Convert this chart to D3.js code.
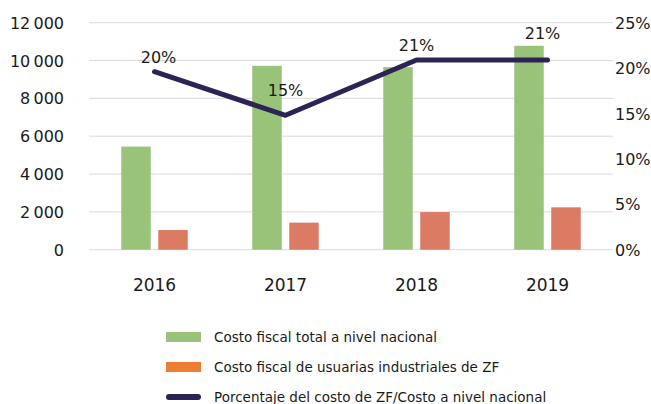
<!DOCTYPE html>
<html>
<head>
<meta charset="utf-8">
<script src="https://cdn.jsdelivr.net/npm/d3@7"></script>
<style>
  body { margin: 0; background: #fff; }
  text { font-family: "DejaVu Sans", sans-serif; fill: #1a1a1a; }
</style>
</head>
<body>
<div id="chart"></div>
<script>
const years = ["2016", "2017", "2018", "2019"];
const totalCost = [5450, 9720, 9650, 10780];
const zfCost = [1040, 1430, 1990, 2240];
const share = [0.196, 0.148, 0.209, 0.209];
const shareLabels = ["20%", "15%", "21%", "21%"];
const leftTicks = [0, 2000, 4000, 6000, 8000, 10000, 12000];
const rightTicks = [0, 0.05, 0.10, 0.15, 0.20, 0.25];
const legendItems = [
    { name: "Costo fiscal total a nivel nacional", type: "bar", color: "#98c379" },
    { name: "Costo fiscal de usuarias industriales de ZF", type: "bar", color: "#ed7d31" },
    { name: "Porcentaje del costo de ZF/Costo a nivel nacional", type: "line", color: "#2c2455" }
];

const svgWidth = 651, svgHeight = 404;
const plotLeft = 89, plotRight = 613, plotTop = 22.7, plotBottom = 249.7;
const green = "#98c379", orange = "#dc7b63", lineColor = "#2c2455";

var svg = d3.select("#chart").append("svg")
    .attr("width", svgWidth).attr("height", svgHeight);

var xScale = d3.scaleBand().domain(years).range([plotLeft, plotRight]);
var yLeft = d3.scaleLinear().domain([0, 12000]).range([plotBottom, plotTop]);
var yRight = d3.scaleLinear().domain([0, 0.25]).range([plotBottom, plotTop]);

// gridlines
svg.append("g").selectAll("line").data(leftTicks).enter()
    .append("line")
    .attr("x1", plotLeft).attr("x2", plotRight)
    .attr("y1", d => yLeft(d)).attr("y2", d => yLeft(d))
    .attr("stroke", "#d9d9d9").attr("stroke-width", 1);

// left axis
var fmt = d3.format(",");
var leftAxis = d3.axisLeft(yLeft).tickValues(leftTicks)
    .tickSize(0).tickPadding(0)
    .tickFormat(d => fmt(d).replace(",", "\u2009"));
var la = svg.append("g").attr("transform", "translate(64,0)").call(leftAxis);
la.select(".domain").remove();
la.selectAll("text").style("font-size", "16px").attr("dy", "0.35em")
    .style("font-family", "DejaVu Sans").attr("fill", "#1a1a1a");

// right axis
var rightAxis = d3.axisRight(yRight).tickValues(rightTicks)
    .tickSize(0).tickPadding(0).tickFormat(d3.format(".0%"));
var ra = svg.append("g").attr("transform", "translate(615,0)").call(rightAxis);
ra.select(".domain").remove();
ra.selectAll("text").style("font-size", "16px").attr("dy", "0.35em")
    .style("font-family", "DejaVu Sans").attr("fill", "#1a1a1a");

// x axis labels
var xAxis = d3.axisBottom(xScale).tickSize(0).tickPadding(0);
var xa = svg.append("g").attr("transform", "translate(0,279)").call(xAxis);
xa.select(".domain").remove();
xa.selectAll("text").style("font-size", "17px").attr("dy", "0.71em")
    .style("font-family", "DejaVu Sans").attr("fill", "#1a1a1a");

// bars
const barW = 29.5, barGap = 7.5;
var groups = svg.append("g").selectAll("g").data(years).enter()
    .append("g")
    .attr("transform", d => "translate(" + (xScale(d) + xScale.bandwidth() / 2) + ",0)");

groups.append("rect")
    .attr("x", -barW - barGap / 2)
    .attr("width", barW)
    .attr("y", (d, i) => yLeft(totalCost[i]))
    .attr("height", (d, i) => plotBottom - yLeft(totalCost[i]))
    .attr("fill", green);

groups.append("rect")
    .attr("x", barGap / 2)
    .attr("width", barW)
    .attr("y", (d, i) => yLeft(zfCost[i]))
    .attr("height", (d, i) => plotBottom - yLeft(zfCost[i]))
    .attr("fill", orange);

// share line
var line = d3.line()
    .x((d, i) => xScale(years[i]) + xScale.bandwidth() / 2)
    .y(d => yRight(d));

svg.append("path")
    .datum(share)
    .attr("d", line)
    .attr("fill", "none")
    .attr("stroke", lineColor)
    .attr("stroke-width", 5)
    .attr("stroke-linecap", "round")
    .attr("stroke-linejoin", "round");

// data labels
const labelDx = [4, 0, 0, -5];
const labelDy = [-9, -19, -9, -21];
svg.append("g").selectAll("text").data(shareLabels).enter()
    .append("text")
    .text(d => d)
    .attr("x", (d, i) => xScale(years[i]) + xScale.bandwidth() / 2 + labelDx[i])
    .attr("y", (d, i) => yRight(share[i]) + labelDy[i])
    .attr("text-anchor", "middle")
    .style("font-size", "16px");

// legend
var legend = svg.append("g").selectAll("g").data(legendItems).enter()
    .append("g")
    .attr("transform", (d, i) => "translate(166," + (337 + i * 30) + ")");

legend.filter(d => d.type == "bar").append("rect")
    .attr("x", 0).attr("y", -5).attr("width", 35).attr("height", 10)
    .attr("fill", d => d.color);

legend.filter(d => d.type == "line").append("line")
    .attr("x1", 3).attr("x2", 32).attr("y1", 0).attr("y2", 0)
    .attr("stroke", d => d.color).attr("stroke-width", 6)
    .attr("stroke-linecap", "round");

legend.append("text")
    .text(d => d.name)
    .attr("x", 48).attr("dy", "0.35em")
    .style("font-size", "13.5px");
</script>
</body>
</html>
